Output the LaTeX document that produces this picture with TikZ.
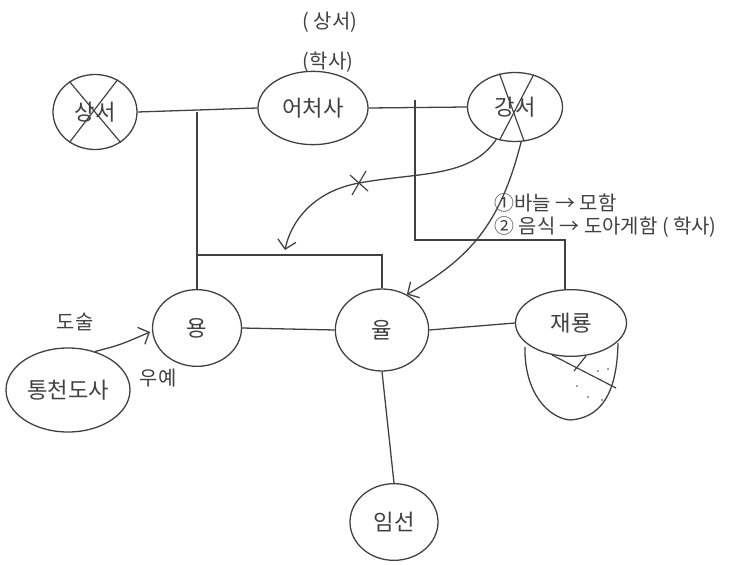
\documentclass[tikz,border=0pt]{standalone}
\usepackage{fontspec}
\usepackage{tikz}
\usetikzlibrary{arrows.meta,calc,positioning,shapes.geometric}
\newfontfamily\krfont{Noto Sans CJK KR}
\definecolor{inkgray}{HTML}{404040}

\begin{document}
\begin{tikzpicture}[x=0.03cm,y=0.03cm,
 famnode/.style={ellipse,draw=inkgray,line width=1.1pt,inner sep=0pt,text=inkgray,font=\krfont\fontsize{19}{22}\selectfont},
 famtext/.style={text=inkgray,inner sep=1pt,font=\krfont\fontsize{17}{20}\selectfont},
 treeline/.style={draw=inkgray,line width=1.1pt},
 crossline/.style={draw=inkgray,line width=1pt},
 famarrow/.style={-{Straight Barb[length=2.6mm,width=5.5mm]},line width=1.1pt,draw=inkgray}
]
\useasboundingbox (0,0) rectangle (754,-565);
\node[famnode,minimum width=2.52cm,minimum height=2.25cm] (sangseo) at (95,-112) {상서};
\node[famnode,minimum width=3.3cm,minimum height=2.2cm] (eocheosa) at (313,-108) {어처사};
\node[famnode,minimum width=2.85cm,minimum height=2.07cm] (gangseo) at (515,-107) {강서};
\node[famnode,minimum width=2.67cm,minimum height=2.3cm] (yong) at (197,-328) {용};
\node[famnode,minimum width=3.72cm,minimum height=2.52cm] (tongcheon) at (68,-390) {통천도사};
\node[famnode,minimum width=2.8cm,minimum height=2.46cm] (yul) at (382,-330) {율};
\node[famnode,minimum width=3.33cm,minimum height=2cm] (jaeryong) at (571,-323) {재룡};
\node[famnode,minimum width=2.64cm,minimum height=2.3cm] (imseon) at (394,-522) {임선};
\node[famtext] (sangseonote) at (330,-22) {( 상서)};
\node[famtext] (haksanote) at (328,-62) {(학사)};
\node[famtext] (dosul) at (75,-322) {도술};
\node[famtext] (uye) at (158,-378) {우예};
\node[famtext,anchor=west] (note1) at (493,-203) {①바늘 → 모함};
\node[famtext,anchor=west] (note2) at (493,-227) {② 음식 → 도아게함 ( 학사)};
\coordinate (joinleft) at (197,-112);
\coordinate (barleft) at (197,-255);
\coordinate (joinright) at (415,-100);
\coordinate (barright) at (415,-240);
\coordinate (xmark) at (359,-183);
\coordinate (arrowend) at (285,-250);
\draw[crossline] (sangseo.130)--(sangseo.-50);
\draw[crossline] (sangseo.55)--(sangseo.-130);
\draw[crossline] (gangseo.115)--(gangseo.-75);
\draw[crossline] (gangseo.60)--(gangseo.-115);
\draw[treeline] (sangseo.east)--(eocheosa.west);
\draw[treeline] (eocheosa.east)--(gangseo.west);
\draw[treeline] (joinleft)--(yong.north);
\draw[treeline] (barleft) -| (yul.north);
\draw[treeline] (joinright)--(barright) -| (jaeryong.100);
\draw[treeline] (yong.east)--(yul.west);
\draw[treeline] (yul.east)--(jaeryong.west);
\draw[treeline] (yul.south)--(imseon.north);
\draw[famarrow] (tongcheon.55) .. controls (120,-345) .. (150,-332);
\draw[famarrow] (gangseo.-120) .. controls (470,-178) and (420,-172) .. (xmark)
  .. controls (310,-192) and (290,-225) .. (arrowend);
\draw[crossline] ($(xmark)+(-7,-12)$)--($(xmark)+(7,12)$);
\draw[crossline] ($(xmark)+(-9,8)$)--($(xmark)+(9,-8)$);
\draw[famarrow] (gangseo.-80) .. controls (500,-225) and (470,-258) .. (yul.55);
\draw[treeline] (525,-347) .. controls (524,-392) and (548,-418) .. (570,-420)
  .. controls (600,-418) and (617,-395) .. (618,-343);
\draw[crossline] (552,-355)--(616,-388);
\draw[crossline] (586,-356)--(574,-371);
\foreach \dx/\dy in {598/371,608/369,577/386,588/397,602/400}
  \fill[inkgray] (\dx,-\dy) circle (0.8);
\end{tikzpicture}
\end{document}
